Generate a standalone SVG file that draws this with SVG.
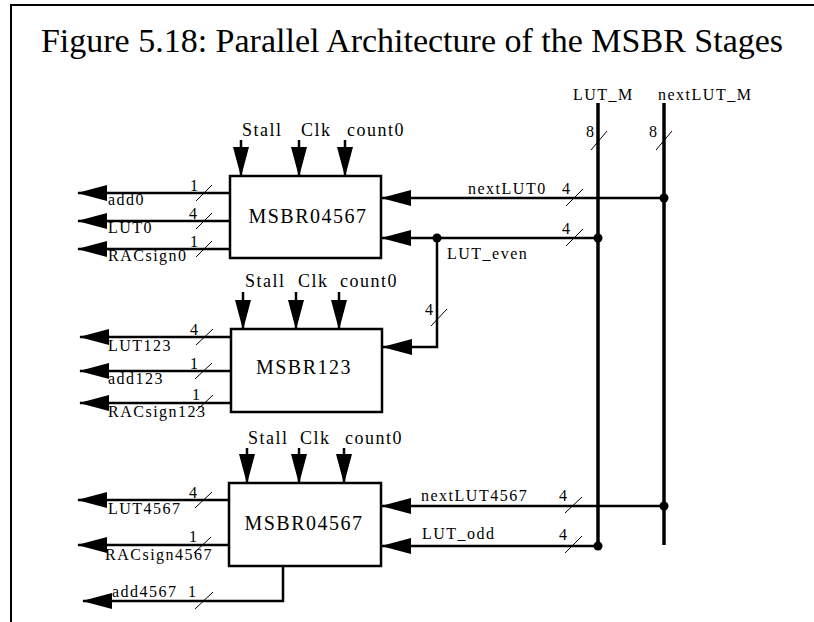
<svg xmlns="http://www.w3.org/2000/svg" width="814" height="622" viewBox="0 0 814 622">
<style>
text{font-family:"Liberation Serif","Times New Roman",serif;fill:#000}
.title{font-size:34px}
.lbl{font-size:16px;letter-spacing:1.5px}
.pin{font-size:18px;letter-spacing:1.5px}
.blk{font-size:20px;letter-spacing:1.5px;text-anchor:middle}
.w{stroke:#000;stroke-width:2.5;fill:none}
.bus{stroke:#000;stroke-width:3.5;fill:none}
.tk{stroke:#000;stroke-width:1;fill:none}
.box{stroke:#000;stroke-width:2.5;fill:#fff}
.ar{marker-end:url(#ah)}
</style>
<defs>
<marker id="ah" viewBox="0 0 30 16" refX="29" refY="8" markerWidth="30" markerHeight="16" orient="auto" markerUnits="userSpaceOnUse">
<path d="M0,0 L30,8 L0,16 z" fill="#000"/>
</marker>
</defs>
<rect width="814" height="622" fill="#fff"/>
<path d="M11,622 V5 H814" fill="none" stroke="#000" stroke-width="2"/>
<text class="title" x="412" y="52" text-anchor="middle">Figure 5.18: Parallel Architecture of the MSBR Stages</text>

<g id="connectors">
<line class="bus" x1="598" y1="103" x2="598" y2="546"/>
<line class="bus" x1="664" y1="103" x2="664" y2="545"/>
<line class="tk" x1="591" y1="150" x2="607" y2="131"/>
<line class="tk" x1="656" y1="150" x2="672" y2="131"/>
<line class="w ar" x1="241" y1="140" x2="241" y2="176"/>
<line class="w ar" x1="299" y1="140" x2="299" y2="176"/>
<line class="w ar" x1="345" y1="140" x2="345" y2="176"/>
<line class="w ar" x1="230" y1="193" x2="78" y2="193"/>
<line class="w ar" x1="230" y1="221" x2="78" y2="221"/>
<line class="w ar" x1="230" y1="249" x2="78" y2="249"/>
<line class="tk" x1="196" y1="201" x2="212" y2="185"/>
<line class="tk" x1="196" y1="229" x2="212" y2="213"/>
<line class="tk" x1="196" y1="257" x2="212" y2="241"/>
<line class="w ar" x1="664" y1="198" x2="382" y2="198"/>
<line class="w ar" x1="598" y1="238" x2="382" y2="238"/>
<line class="tk" x1="566" y1="206" x2="583" y2="189"/>
<line class="tk" x1="566" y1="246" x2="583" y2="229"/>
<circle cx="664" cy="198" r="4.5"/>
<circle cx="598" cy="238" r="4.5"/>
<circle cx="437" cy="238" r="4.5"/>
<path class="w ar" d="M437,238 V347 H383"/>
<line class="tk" x1="431" y1="326" x2="447" y2="309"/>
<line class="w ar" x1="243" y1="292" x2="243" y2="329"/>
<line class="w ar" x1="296" y1="292" x2="296" y2="329"/>
<line class="w ar" x1="339" y1="292" x2="339" y2="329"/>
<line class="w ar" x1="231" y1="337" x2="80" y2="337"/>
<line class="w ar" x1="231" y1="371" x2="80" y2="371"/>
<line class="w ar" x1="231" y1="403" x2="80" y2="403"/>
<line class="tk" x1="196" y1="345" x2="213" y2="329"/>
<line class="tk" x1="195" y1="379" x2="212" y2="363"/>
<line class="tk" x1="196" y1="411" x2="213" y2="395"/>
<line class="w ar" x1="247" y1="448" x2="247" y2="483"/>
<line class="w ar" x1="299" y1="448" x2="299" y2="483"/>
<line class="w ar" x1="344" y1="448" x2="344" y2="483"/>
<line class="w ar" x1="229" y1="500" x2="78" y2="500"/>
<line class="w ar" x1="229" y1="545" x2="78" y2="545"/>
<line class="tk" x1="195" y1="508" x2="212" y2="492"/>
<line class="tk" x1="194" y1="553" x2="211" y2="537"/>
<path class="w ar" d="M283,566 V601 H83"/>
<line class="tk" x1="195" y1="609" x2="213" y2="592"/>
<line class="w ar" x1="664" y1="506" x2="382" y2="506"/>
<line class="w ar" x1="598" y1="546" x2="382" y2="546"/>
<line class="tk" x1="565" y1="513" x2="582" y2="497"/>
<line class="tk" x1="565" y1="553" x2="582" y2="536"/>
<circle cx="664" cy="506" r="4.5"/>
<circle cx="598" cy="546" r="4.5"/>
</g>

<g id="bus-labels">
<text class="lbl" x="573" y="100">LUT_M</text>
<text class="lbl" x="658" y="100">nextLUT_M</text>
<text class="lbl" x="586" y="137">8</text>
<text class="lbl" x="649" y="137">8</text>
</g>

<g id="block1">
<rect class="box" x="230" y="176" width="151" height="82"/>
<text class="blk" x="308" y="223">MSBR04567</text>
<text class="pin" x="242" y="136">Stall</text>
<text class="pin" x="301" y="136">Clk</text>
<text class="pin" x="347" y="136">count0</text>
<text class="lbl" x="108" y="205">add0</text>
<text class="lbl" x="108" y="233">LUT0</text>
<text class="lbl" x="108" y="261">RACsign0</text>
<text class="lbl" x="190" y="191">1</text>
<text class="lbl" x="189" y="219">4</text>
<text class="lbl" x="190" y="247">1</text>
<text class="lbl" x="468" y="194">nextLUT0</text>
<text class="lbl" x="562" y="194">4</text>
<text class="lbl" x="562" y="234">4</text>
<text class="lbl" x="447" y="259">LUT_even</text>
<text class="lbl" x="425" y="315">4</text>
</g>

<g id="block2">
<rect class="box" x="231" y="329" width="151" height="83"/>
<text class="blk" x="304" y="374">MSBR123</text>
<text class="pin" x="245" y="287">Stall</text>
<text class="pin" x="298" y="287">Clk</text>
<text class="pin" x="340" y="287">count0</text>
<text class="lbl" x="108" y="351">LUT123</text>
<text class="lbl" x="108" y="384">add123</text>
<text class="lbl" x="108" y="417">RACsign123</text>
<text class="lbl" x="190" y="335">4</text>
<text class="lbl" x="190" y="369">1</text>
<text class="lbl" x="192" y="400">1</text>
</g>

<g id="block3">
<rect class="box" x="229" y="483" width="152" height="83"/>
<text class="blk" x="304" y="530">MSBR04567</text>
<text class="pin" x="248" y="444">Stall</text>
<text class="pin" x="300" y="444">Clk</text>
<text class="pin" x="345" y="444">count0</text>
<text class="lbl" x="108" y="514">LUT4567</text>
<text class="lbl" x="105" y="560">RACsign4567</text>
<text class="lbl" x="189" y="498">4</text>
<text class="lbl" x="189" y="542">1</text>
<text class="lbl" x="112" y="597">add4567</text>
<text class="lbl" x="188" y="597">1</text>
<text class="lbl" x="421" y="501">nextLUT4567</text>
<text class="lbl" x="422" y="539">LUT_odd</text>
<text class="lbl" x="559" y="501">4</text>
<text class="lbl" x="559" y="540">4</text>
</g>
</svg>
